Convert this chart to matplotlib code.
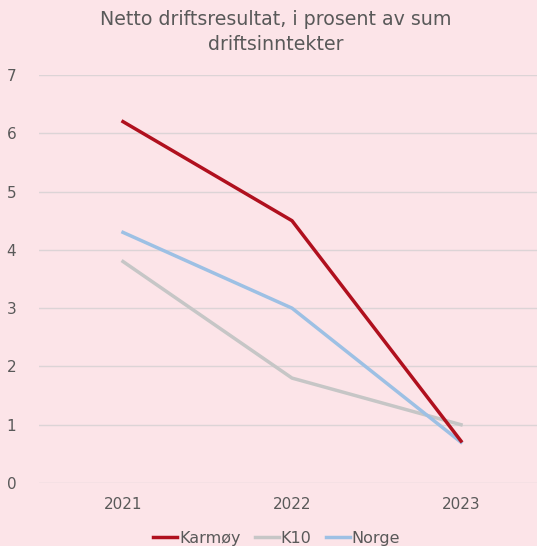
import matplotlib.pyplot as plt

years = ["2021", "2022", "2023"]
karmoy = [6.2, 4.5, 0.72]
k10 = [3.8, 1.8, 1.0]
norge = [4.3, 3.0, 0.7]

bg = "#FCE4E8"
txt = "#595959"

plt.rcParams['font.family'] = ['DejaVu Sans']

fig = plt.figure(figsize=(5.37, 5.46), dpi=100, facecolor=bg)
ax = fig.add_axes([38.5 / 537, 63 / 546, 507 / 537, 408 / 546], facecolor=bg)

x = range(len(years))
ax.plot(x, k10, color="#C6C6C6", lw=2.5, label="K10", zorder=3)
ax.plot(x, norge, color="#9DC0E4", lw=2.5, label="Norge", zorder=4)
ax.plot(x, karmoy, color="#B0101E", lw=2.5, label="Karmøy", zorder=5)

ax.set_xlim(-0.5, 2.5)
ax.set_ylim(0, 7)
ax.set_xticks(list(x))
ax.set_xticklabels(years)
ax.set_yticks(range(8))
ax.grid(axis="y", color="#DCD4D6", lw=1)
ax.set_axisbelow(True)
for s in ax.spines.values():
    s.set_visible(False)
ax.tick_params(length=0, labelsize=11, colors=txt, pad=10)
ax.tick_params(axis="y", pad=16)

fig.text(0.513, 0.942, "Netto driftsresultat, i prosent av sum\ndriftsinntekter",
         ha="center", va="center", fontsize=13.7, color=txt, linespacing=1.4)

h, l = ax.get_legend_handles_labels()
order = [2, 0, 1]
fig.legend([h[i] for i in order], [l[i] for i in order], loc="center",
           bbox_to_anchor=(0.515, 0.014), ncol=3, frameon=False, fontsize=11.5,
           labelcolor=txt, handlelength=1.5, handletextpad=0.1, columnspacing=0.9)

fig.savefig("out.png", dpi=100, facecolor=bg)
